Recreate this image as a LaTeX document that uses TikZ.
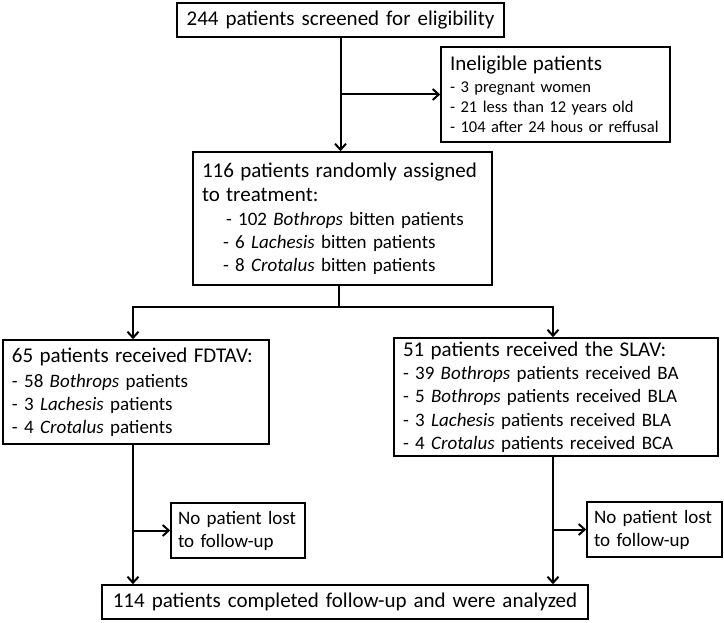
\documentclass[tikz,border=0pt]{standalone}
\usepackage{fontspec}
\setmainfont{Carlito}
\usetikzlibrary{arrows.meta}
\newcommand\hdf{\fontsize{21}{25}\selectfont}
\newcommand\lsf{\fontsize{19}{23}\selectfont}
\newcommand\smf{\fontsize{16.5}{20}\selectfont}
\begin{document}
\begin{tikzpicture}[x=1pt,y=-1pt,
  box/.style={draw=black, line width=1.6pt, inner xsep=9pt, inner ysep=0pt, align=left, anchor=center, font=\lsf},
  conn/.style={line width=2pt, -{Straight Barb[length=6pt,width=11pt,line width=2pt]}}]
\useasboundingbox (0,0) rectangle (724,623);

\node[box, text width=309pt, minimum height=34pt, align=center, font=\hdf] (top) at (340.5,20) {244 patients screened for eligibility};
\node[box, text width=211pt, minimum height=95pt, font=\smf] (inel) at (555.5,94.5) {{\hdf Ineligible patients}\\[2pt] - 3 pregnant women\\ - 21 less than 12 years old\\ - 104 after 24 hous or reffusal};
\node[box, text width=281pt, minimum height=133pt] (mid) at (342.5,218.5) {{\hdf 116 patients randomly assigned}\\[1.5pt] {\hdf to treatment:}\\[1pt] \hspace*{24pt}- 102 \textit{Bothrops} bitten patients\\ \hspace*{21pt}- 6 \textit{Lachesis} bitten patients\\ \hspace*{21pt}- 8 \textit{Crotalus} bitten patients};
\node[box, text width=248pt, minimum height=104pt] (left) at (136,392) {{\hdf 65 patients received FDTAV:}\\[1.5pt] - 58 \textit{Bothrops} patients\\ - 3 \textit{Lachesis} patients\\ - 4 \textit{Crotalus} patients};
\node[box, text width=306pt, minimum height=118pt] (right) at (556,397) {{\hdf 51 patients received the SLAV:}\\[0.5pt] - 39 \textit{Bothrops} patients received BA\\[0.3pt] - 5 \textit{Bothrops} patients received BLA\\[0.3pt] - 3 \textit{Lachesis} patients received BLA\\[0.3pt] - 4 \textit{Crotalus} patients received BCA};
\node[box, text width=120pt, inner xsep=7pt, minimum height=55pt] (nl1) at (238,530.5) {No patient lost\\ to follow-up};
\node[box, text width=121pt, inner xsep=7pt, minimum height=55pt] (nl2) at (654.5,529.5) {No patient lost\\ to follow-up};
\node[box, text width=468pt, minimum height=34pt, align=center, font=\hdf] (bot) at (345,602) {114 patients completed follow-up and were analyzed};

\coordinate (j) at (339,307);
\coordinate (jl) at (133,307);
\coordinate (jr) at (553,307);

\draw[conn] (top.south) -- (top.south |- mid.north);
\draw[conn] (top.south |- inel.west) -- (inel.west);
\draw[conn] (j |- mid.south) -- (j) -- (jl) -- (jl |- left.north);
\draw[conn] (j) -- (jr) -- (jr |- right.north);
\draw[conn] (jl |- left.south) -- (jl |- bot.north);
\draw[conn] (jl |- nl1.west) -- (nl1.west);
\draw[conn] (jr |- right.south) -- (jr |- bot.north);
\draw[conn] (jr |- nl2.west) -- (nl2.west);
\end{tikzpicture}
\end{document}
